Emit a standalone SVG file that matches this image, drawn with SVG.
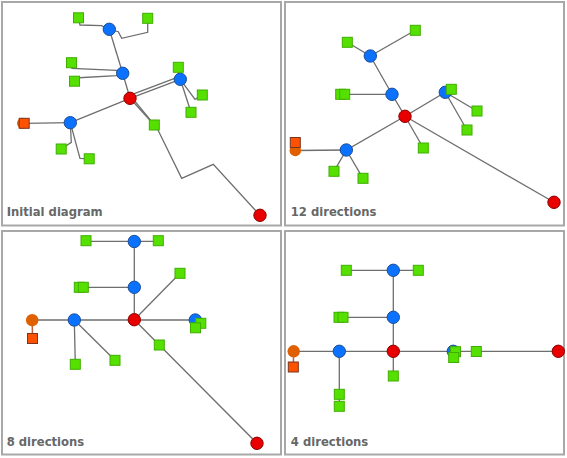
<svg xmlns="http://www.w3.org/2000/svg" width="567" height="458" viewBox="0 0 567 458">
<style>
.panel{fill:#fff;stroke:#a8a8a8;stroke-width:2}
.e{fill:none;stroke:#6e6e6e;stroke-width:1.3}
.eo{fill:none;stroke:#c0603c;stroke-width:1.5}
.b{fill:#0a72ff;stroke:#1d4f96;stroke-width:1}
.r{fill:#e80000;stroke:#8c0000;stroke-width:1}
.oc{fill:#e06000}
.g{fill:#55e000;stroke:#3fae00;stroke-width:1}
.os{fill:#ff5200;stroke:#7a3520;stroke-width:1}
.lbl{font-family:"DejaVu Sans",Verdana,sans-serif;font-weight:bold;font-size:11.6px;fill:#676767}
</style>
<defs>
<circle id="cb" r="6.2" class="b"/>
<circle id="cr" r="6.2" class="r"/>
<rect id="sg" x="-5" y="-5" width="10" height="10" class="g"/>
<rect id="so" x="-5" y="-5" width="10" height="10" class="os"/>
</defs>
<rect width="567" height="458" fill="#fff"/>
<g id="panels">
<rect class="panel" x="2" y="2" width="279" height="223.5"/>
<rect class="panel" x="285" y="2" width="279" height="223.5"/>
<rect class="panel" x="2" y="231" width="279" height="223.5"/>
<rect class="panel" x="285" y="231" width="279" height="223.5"/>
</g>
<g id="connectors">
<!-- panel 1 -->
<path class="e" d="M78.5,17.8 L80,25 L101.5,25.7 L109.3,29.3"/>
<path class="e" d="M109.3,29.3 L118.3,31.7 L121.7,38.3 L147.7,32.3 L147.7,18.3"/>
<path class="e" d="M109.3,29.3 L122.7,73.3"/>
<path class="e" d="M71.5,62.7 L72,68.4 L116.7,70.3 L122.7,73.3"/>
<path class="e" d="M74.5,78 L116.7,75.7 L122.7,73.3"/>
<path class="e" d="M122.7,73.3 L130,98.3"/>
<path class="e" d="M130,98.3 L180.3,79.3"/>
<path class="e" d="M129,95.7 L179.3,76.7"/>
<path class="e" d="M180.3,79.3 L178.3,67.3"/>
<path class="e" d="M180.3,79.3 L195,99.3 L202.3,95"/>
<path class="e" d="M180.3,79.3 L191,112.3"/>
<path class="e" d="M130,98.3 L154.3,125"/>
<path class="e" d="M131.8,97.3 L157,128 L181.7,178.3 L213.3,164.3 L260,215.3"/>
<path class="e" d="M70.3,122.7 L130,98.3"/>
<path class="e" d="M24.2,123.3 L70.3,122.7"/>
<path class="e" d="M70.3,122.7 L71.3,142.3 L61.2,149"/>
<path class="e" d="M70.3,122.7 L80,158.3 L89.2,158.8"/>
<!-- panel 2 -->
<path class="e" d="M347.3,42.3 L370.3,56 L415.3,30.3"/>
<path class="e" d="M370.3,56 L392,94.3 L405,116.3"/>
<path class="e" d="M340.7,94.3 L392,94.3"/>
<path class="e" d="M405,116.3 L445.3,92.3 L477,111"/>
<path class="e" d="M445.3,92.3 L467,130"/>
<path class="e" d="M445.3,92.3 L451.3,89.3"/>
<path class="e" d="M405,116.3 L423.3,148"/>
<path class="e" d="M405,116.3 L554,202.3"/>
<path class="e" d="M405,116.3 L346.3,150 L295.3,150.5"/>
<path class="e" d="M346.3,150 L334,171.3"/>
<path class="e" d="M346.3,150 L363,178.3"/>
<!-- panel 3 -->
<path class="e" d="M86,241.3 L158.3,241.3"/>
<path class="e" d="M134.3,241.5 L134.3,319.7"/>
<path class="e" d="M79.3,287.3 L134.3,287.3"/>
<path class="e" d="M134.3,319.7 L180,273.3"/>
<path class="e" d="M32.2,320 L195.3,320"/>
<path class="e" d="M74.3,320 L75.3,364.3"/>
<path class="e" d="M74.3,320 L115,360.3"/>
<path class="e" d="M134.3,319.7 L159.3,345 L257,443.3"/>
<path class="eo" d="M32.3,326 L32.4,333.5"/>
<!-- panel 4 -->
<path class="e" d="M346.3,270.3 L418.3,270.3"/>
<path class="e" d="M393.3,270.3 L393.3,376"/>
<path class="e" d="M339,317.3 L393.3,317.3"/>
<path class="e" d="M293.7,351.3 L558.3,351.3"/>
<path class="e" d="M339.3,351.3 L339.3,406.3"/>
<path class="eo" d="M293.5,357 L293.4,362"/>
</g>
<g id="panel1-nodes">
<g id="p1-orange-c"><circle cx="22.5" cy="123.3" r="5.5" class="oc"/></g>
<g id="p1-orange-s"><use href="#so" x="24.2" y="123.3"/></g>
<g id="p1-blue1"><use href="#cb" x="109.3" y="29.3"/></g>
<g id="p1-blue2"><use href="#cb" x="122.7" y="73.3"/></g>
<g id="p1-blue3"><use href="#cb" x="180.3" y="79.3"/></g>
<g id="p1-blue4"><use href="#cb" x="70.3" y="122.7"/></g>
<g id="p1-red1"><use href="#cr" x="130" y="98.3"/></g>
<g id="p1-red2"><use href="#cr" x="260" y="215.3"/></g>
<g id="p1-g1"><use href="#sg" x="78.5" y="17.8"/></g>
<g id="p1-g2"><use href="#sg" x="147.7" y="18.3"/></g>
<g id="p1-g3"><use href="#sg" x="71.5" y="62.7"/></g>
<g id="p1-g4"><use href="#sg" x="74.5" y="81.2"/></g>
<g id="p1-g5"><use href="#sg" x="178.3" y="67.3"/></g>
<g id="p1-g6"><use href="#sg" x="202.3" y="95"/></g>
<g id="p1-g7"><use href="#sg" x="191" y="112.3"/></g>
<g id="p1-g8"><use href="#sg" x="154.3" y="125"/></g>
<g id="p1-g9"><use href="#sg" x="61.2" y="149"/></g>
<g id="p1-g10"><use href="#sg" x="89.2" y="158.8"/></g>
</g>
<g id="panel2-nodes">
<g id="p2-orange-c"><circle cx="295.3" cy="150.5" r="5.8" class="oc"/></g>
<g id="p2-orange-s"><use href="#so" x="295.3" y="142.5"/></g>
<g id="p2-blue1"><use href="#cb" x="370.3" y="56"/></g>
<g id="p2-blue2"><use href="#cb" x="392" y="94.3"/></g>
<g id="p2-blue3"><use href="#cb" x="445.3" y="92.3"/></g>
<g id="p2-blue4"><use href="#cb" x="346.3" y="150"/></g>
<g id="p2-red1"><use href="#cr" x="405" y="116.3"/></g>
<g id="p2-red2"><use href="#cr" x="554" y="202.3"/></g>
<g id="p2-g1"><use href="#sg" x="347.3" y="42.3"/></g>
<g id="p2-g2"><use href="#sg" x="415.3" y="30.3"/></g>
<g id="p2-g3"><use href="#sg" x="340.7" y="94.3"/></g>
<g id="p2-g4"><use href="#sg" x="344.7" y="94.3"/></g>
<g id="p2-g5"><use href="#sg" x="451.3" y="89.3"/></g>
<g id="p2-g6"><use href="#sg" x="477" y="111"/></g>
<g id="p2-g7"><use href="#sg" x="467" y="130"/></g>
<g id="p2-g8"><use href="#sg" x="423.3" y="148"/></g>
<g id="p2-g9"><use href="#sg" x="334" y="171.3"/></g>
<g id="p2-g10"><use href="#sg" x="363" y="178.3"/></g>
</g>
<g id="panel3-nodes">
<g id="p3-orange-c"><circle cx="32.2" cy="320.2" r="6.2" class="oc"/></g>
<g id="p3-orange-s"><use href="#so" x="32.5" y="338.5"/></g>
<g id="p3-blue1"><use href="#cb" x="134.3" y="241.5"/></g>
<g id="p3-blue2"><use href="#cb" x="134.3" y="287.3"/></g>
<g id="p3-blue3"><use href="#cb" x="195.3" y="320"/></g>
<g id="p3-blue4"><use href="#cb" x="74.3" y="320"/></g>
<g id="p3-red1"><use href="#cr" x="134.3" y="319.7"/></g>
<g id="p3-red2"><use href="#cr" x="257" y="443.3"/></g>
<g id="p3-g1"><use href="#sg" x="86" y="240.7"/></g>
<g id="p3-g2"><use href="#sg" x="158.3" y="240.7"/></g>
<g id="p3-g3"><use href="#sg" x="79.3" y="287.3"/></g>
<g id="p3-g4"><use href="#sg" x="83.3" y="287.3"/></g>
<g id="p3-g5"><use href="#sg" x="180" y="273.3"/></g>
<g id="p3-g6"><use href="#sg" x="200.8" y="323.3"/></g>
<g id="p3-g7"><use href="#sg" x="195.5" y="327.8"/></g>
<g id="p3-g8"><use href="#sg" x="75.3" y="364.3"/></g>
<g id="p3-g9"><use href="#sg" x="115" y="360.3"/></g>
<g id="p3-g10"><use href="#sg" x="159.3" y="345"/></g>
</g>
<g id="panel4-nodes">
<g id="p4-orange-c"><circle cx="293.7" cy="351.3" r="6.2" class="oc"/></g>
<g id="p4-orange-s"><use href="#so" x="293.3" y="367"/></g>
<g id="p4-blue1"><use href="#cb" x="393.3" y="270.3"/></g>
<g id="p4-blue2"><use href="#cb" x="393.3" y="317.3"/></g>
<g id="p4-blue3"><use href="#cb" x="453.3" y="351.3"/></g>
<g id="p4-blue4"><use href="#cb" x="339.3" y="351.3"/></g>
<g id="p4-red1"><use href="#cr" x="393.3" y="351.3"/></g>
<g id="p4-red2"><use href="#cr" x="558.3" y="351.3"/></g>
<g id="p4-g1"><use href="#sg" x="346.3" y="270.3"/></g>
<g id="p4-g2"><use href="#sg" x="418.3" y="270.3"/></g>
<g id="p4-g3"><use href="#sg" x="339" y="317.3"/></g>
<g id="p4-g4"><use href="#sg" x="343" y="317.3"/></g>
<g id="p4-g5"><use href="#sg" x="455.5" y="351.7"/></g>
<g id="p4-g6"><use href="#sg" x="453.7" y="357.5"/></g>
<g id="p4-g7"><use href="#sg" x="476.3" y="351.5"/></g>
<g id="p4-g8"><use href="#sg" x="393.3" y="376"/></g>
<g id="p4-g9"><use href="#sg" x="339.3" y="394.3"/></g>
<g id="p4-g10"><use href="#sg" x="339.3" y="406.3"/></g>
</g>
<g id="labels">
<text class="lbl" x="6.7" y="215.6">Initial diagram</text>
<text class="lbl" x="290.8" y="215.8">12 directions</text>
<text class="lbl" x="6.7" y="445.6">8 directions</text>
<text class="lbl" x="290.8" y="445.6">4 directions</text>
</g>
</svg>
